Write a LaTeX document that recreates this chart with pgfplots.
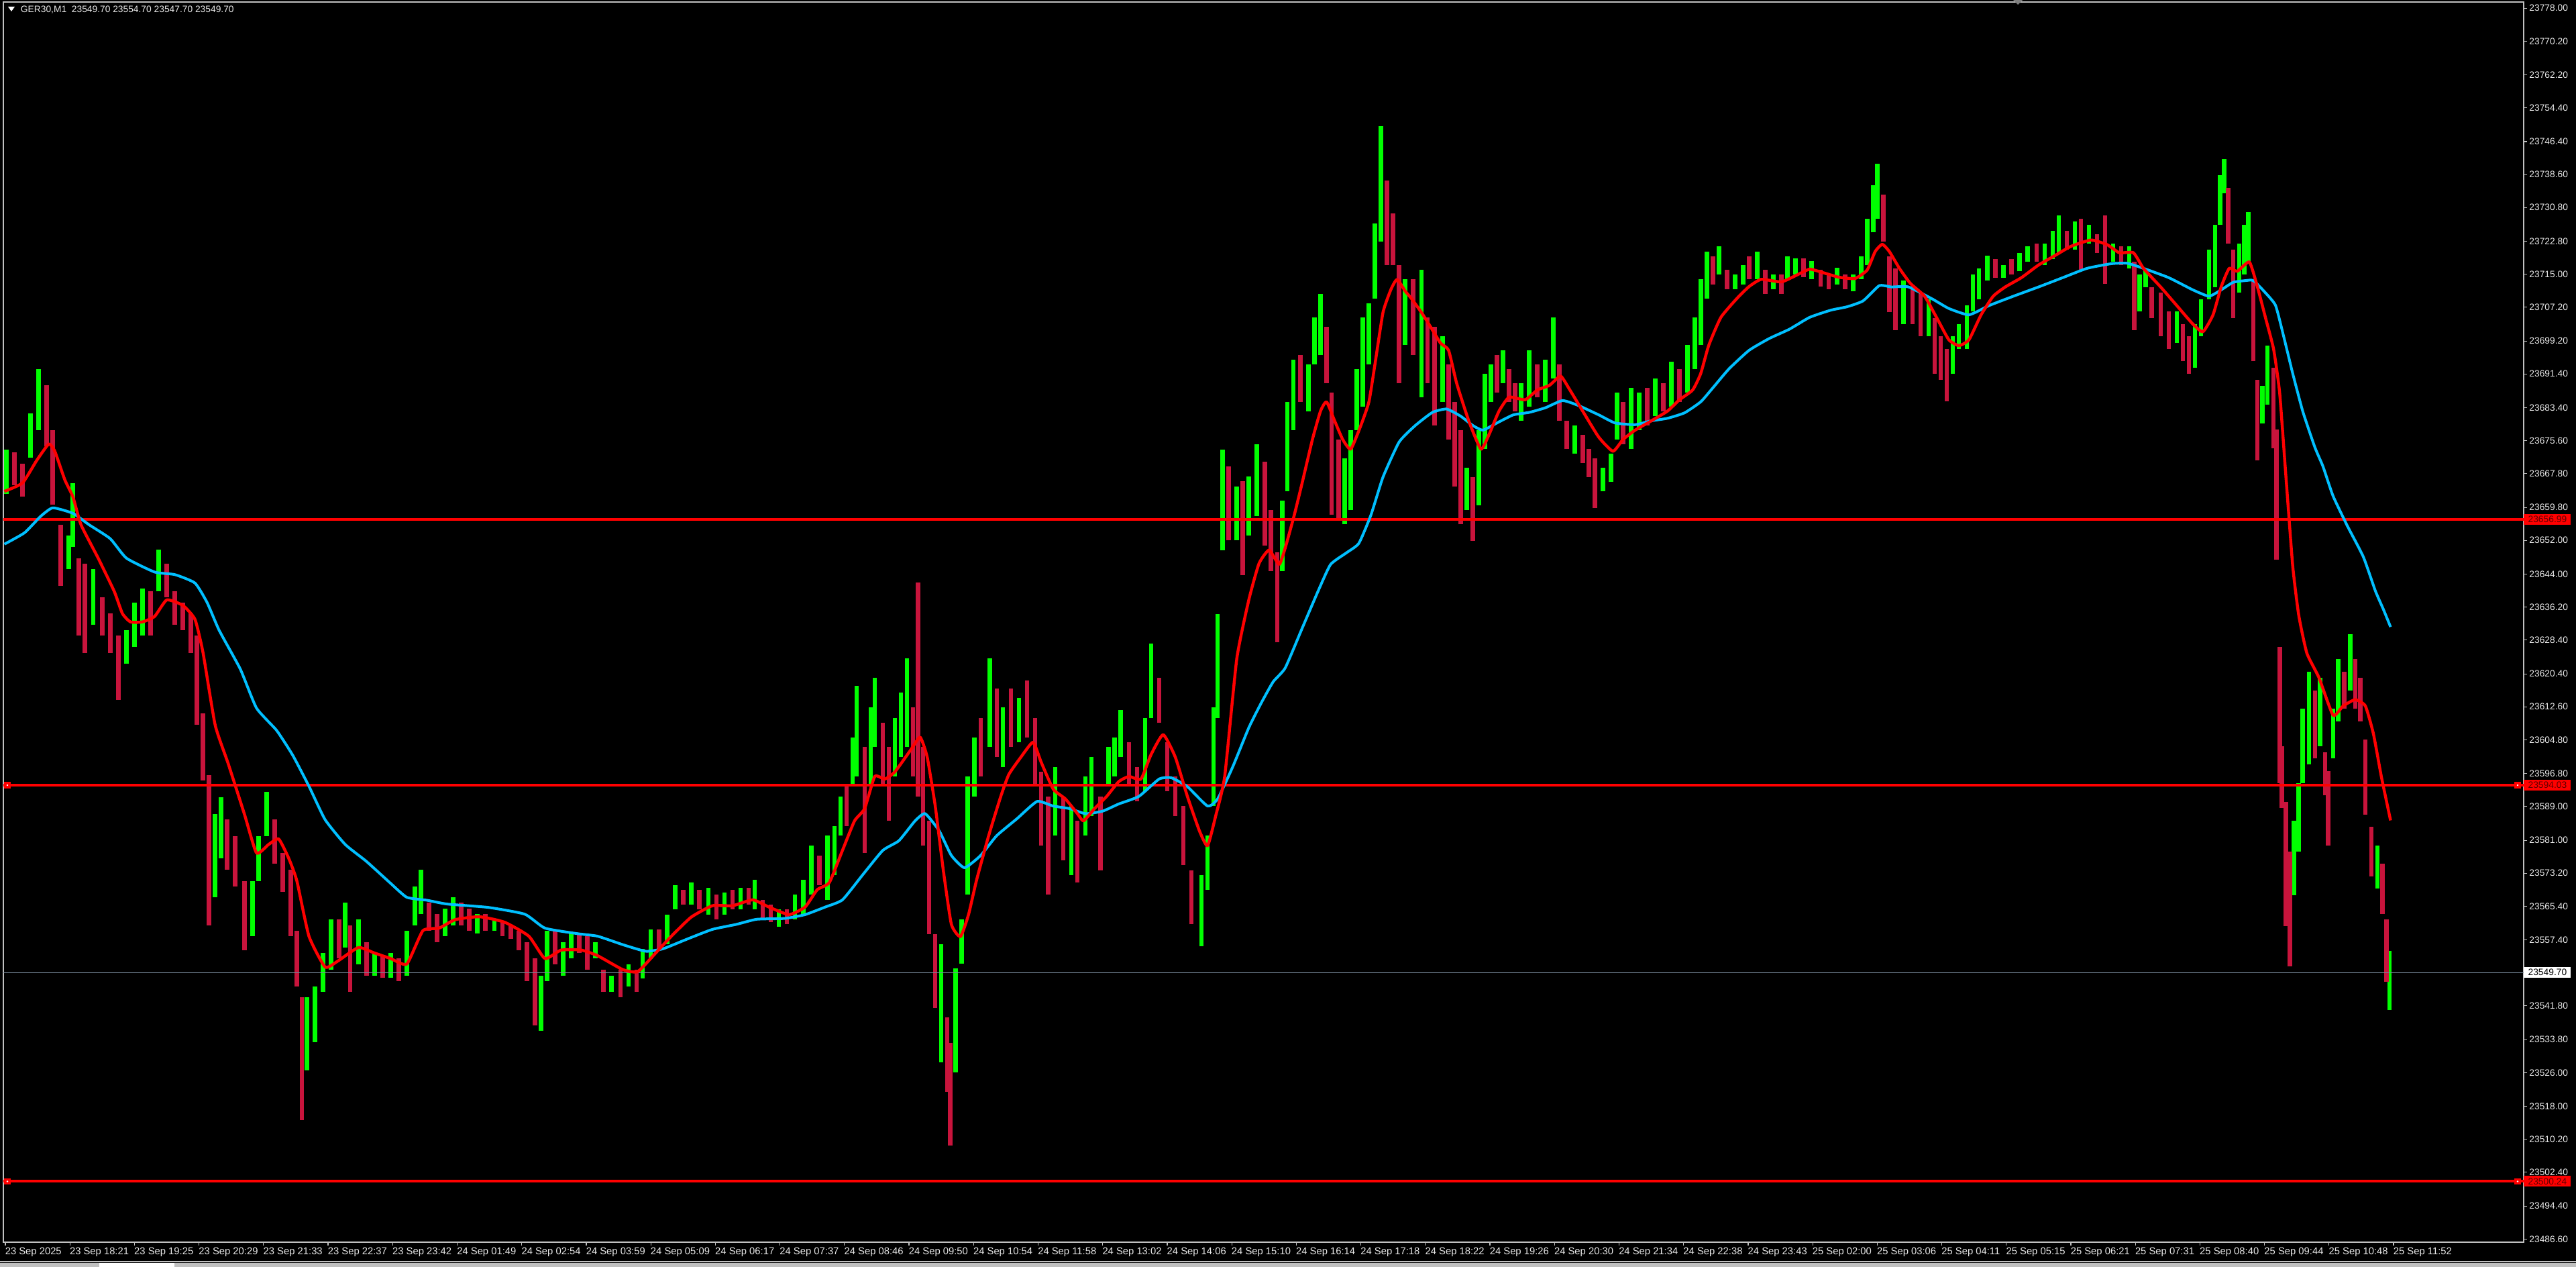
\documentclass[border=0pt]{standalone}
\usepackage{fontspec}
\setmainfont{Liberation Sans}
\usepackage{pgfplots}
\usepackage{pgfplotstable}
\pgfplotsset{compat=1.18}
\definecolor{bull}{HTML}{00FF00}
\definecolor{bear}{HTML}{C8143C}
\definecolor{maRed}{HTML}{FF0000}
\definecolor{maBlue}{HTML}{00BFFF}
\definecolor{framegray}{HTML}{C0C0C0}
\definecolor{labelcol}{HTML}{E8E8E8}
\definecolor{bidline}{HTML}{778899}
\definecolor{boxtext}{HTML}{600000}

\pgfplotstableread{
x lo hi c
1 23663.0 23673.5 1
9 23665.0 23672.9 0
17 23662.3 23670.2 0
25 23671.6 23682.1 1
33 23678.1 23692.6 1
41 23674.2 23688.7 0
47 23660.4 23678.1 0
55 23641.3 23655.7 0
63 23645.2 23653.1 1
67 23650.5 23665.6 1
73 23629.4 23647.8 0
79 23625.4 23646.5 0
87 23632.0 23645.2 1
96 23629.4 23638.6 0
104 23625.4 23634.7 0
112 23614.2 23629.4 0
120 23622.8 23630.7 1
128 23626.8 23637.3 1
136 23629.4 23640.6 1
144 23629.4 23639.9 0
152 23639.9 23649.8 1
160 23638.6 23646.5 0
168 23632.0 23639.9 0
176 23630.7 23637.3 0
184 23625.4 23634.7 0
190 23608.3 23629.4 0
196 23595.1 23611.0 0
202 23560.9 23596.5 0
208 23567.5 23587.2 1
214 23576.7 23591.2 1
220 23574.1 23585.9 0
228 23570.1 23582.0 0
237 23555.0 23571.4 0
245 23558.3 23571.4 1
251 23571.4 23582.0 1
259 23582.0 23592.5 1
267 23575.4 23585.9 0
275 23568.8 23578.0 0
283 23558.3 23574.1 0
289 23546.4 23559.6 0
294 23514.8 23543.8 0
299 23526.6 23543.8 1
307 23533.2 23546.4 1
315 23545.1 23554.3 1
323 23550.4 23562.2 1
331 23553.0 23562.2 0
337 23555.6 23566.2 1
342 23545.1 23560.9 0
350 23551.7 23562.2 1
358 23549.0 23556.9 0
366 23549.0 23554.3 1
374 23548.4 23553.7 0
382 23548.4 23554.3 1
390 23547.7 23553.0 0
398 23549.0 23559.6 1
406 23560.9 23570.1 1
412 23563.5 23574.1 1
420 23559.6 23566.2 0
428 23556.9 23563.5 0
436 23558.3 23564.8 1
444 23560.9 23567.5 1
452 23560.9 23566.2 0
460 23559.6 23564.8 0
468 23558.9 23563.5 1
476 23559.6 23563.5 0
485 23559.6 23562.2 1
493 23558.3 23561.6 0
501 23557.6 23560.9 0
509 23555.0 23559.6 0
517 23547.7 23556.9 0
525 23537.2 23553.0 0
531 23535.9 23549.0 1
537 23547.7 23559.6 1
545 23551.7 23559.6 0
553 23549.0 23556.9 1
561 23553.0 23558.9 1
569 23554.3 23558.9 0
577 23550.4 23558.3 0
585 23553.0 23556.9 1
593 23545.1 23550.4 0
601 23545.1 23549.0 1
610 23543.8 23550.4 0
618 23546.4 23551.7 1
626 23545.1 23550.4 0
632 23548.3 23555.3 1
640 23552.9 23559.9 1
648 23555.3 23559.9 0
656 23556.4 23563.4 1
664 23564.6 23570.4 1
672 23565.8 23569.3 0
680 23565.8 23571.0 1
688 23564.6 23569.3 0
697 23563.4 23569.8 1
705 23562.3 23568.1 0
713 23563.4 23568.7 1
721 23564.6 23569.3 0
729 23564.6 23569.8 1
737 23565.8 23569.8 0
743 23564.6 23571.6 1
751 23562.3 23566.9 0
759 23561.7 23565.8 0
767 23560.5 23564.6 1
775 23561.1 23564.6 0
783 23562.3 23568.1 1
791 23563.4 23571.6 1
799 23568.1 23579.7 1
807 23570.4 23577.4 0
815 23566.9 23582.1 1
822 23572.8 23584.4 1
828 23582.1 23591.4 1
834 23584.4 23593.7 0
840 23593.7 23605.4 1
844 23596.1 23617.6 1
852 23578.0 23603.1 0
858 23593.7 23612.4 1
862 23603.1 23619.4 1
870 23593.7 23608.9 0
876 23585.6 23603.1 0
882 23596.1 23610.0 1
888 23600.7 23615.9 1
894 23603.1 23624.0 1
900 23596.1 23612.4 0
905 23591.4 23642.1 0
910 23579.7 23603.1 0
916 23558.8 23585.6 0
922 23541.3 23558.8 0
928 23528.5 23556.4 1
934 23521.5 23539.0 0
937 23508.7 23533.1 0
942 23526.1 23550.6 1
948 23551.8 23562.3 1
954 23568.1 23596.1 1
961 23591.4 23605.4 1
967 23596.1 23610.0 0
976 23603.1 23624.0 1
983 23600.7 23617.0 0
989 23598.4 23612.4 1
997 23603.1 23617.0 0
1005 23604.2 23614.7 1
1013 23605.4 23618.8 0
1021 23593.7 23610.0 0
1027 23579.7 23597.2 0
1034 23568.1 23591.4 0
1041 23582.1 23598.4 1
1049 23576.2 23591.4 0
1057 23572.8 23589.1 1
1063 23571.0 23585.6 0
1071 23582.1 23596.1 1
1077 23586.7 23600.7 1
1086 23573.9 23591.4 0
1094 23593.7 23603.1 1
1100 23596.1 23605.4 1
1106 23600.7 23611.8 1
1114 23593.7 23604.2 0
1122 23590.2 23598.4 0
1130 23592.6 23610.0 1
1136 23610.0 23627.5 1
1144 23608.9 23619.4 0
1152 23592.6 23604.2 0
1160 23586.7 23596.1 0
1168 23575.1 23589.1 0
1176 23561.1 23573.9 0
1186 23555.9 23572.8 1
1192 23569.3 23582.1 1
1198 23589.1 23612.4 1
1202 23610.0 23634.5 1
1207 23649.7 23673.5 1
1213 23652.0 23669.5 0
1221 23652.0 23664.8 1
1227 23643.8 23666.0 0
1233 23653.2 23667.1 1
1241 23657.8 23674.7 1
1249 23650.8 23670.6 0
1255 23644.7 23659.2 0
1261 23627.9 23649.1 0
1266 23644.7 23661.4 1
1271 23663.6 23684.8 1
1277 23678.1 23694.8 1
1284 23684.8 23695.9 0
1292 23682.6 23693.7 1
1298 23693.7 23704.8 1
1304 23695.9 23710.4 1
1310 23689.2 23702.6 0
1315 23658.0 23687.0 0
1322 23656.9 23675.9 0
1328 23655.8 23671.4 1
1334 23659.2 23678.1 1
1340 23678.1 23692.6 1
1346 23683.7 23704.8 1
1352 23693.7 23708.2 1
1358 23709.3 23727.1 1
1364 23722.7 23750.0 1
1370 23717.1 23737.2 0
1376 23717.1 23729.4 0
1382 23689.2 23717.1 0
1388 23698.2 23713.8 1
1396 23695.9 23713.8 0
1404 23685.9 23716.0 1
1410 23689.2 23704.8 0
1417 23679.2 23702.6 0
1425 23684.8 23700.4 1
1431 23675.9 23693.7 0
1437 23664.7 23684.8 0
1443 23655.8 23678.1 0
1449 23659.2 23669.2 1
1455 23651.9 23667.0 0
1461 23660.3 23678.1 1
1467 23673.6 23691.5 1
1473 23684.8 23693.7 1
1479 23687.0 23695.9 0
1485 23689.2 23697.0 1
1491 23684.8 23692.6 0
1497 23682.6 23689.2 0
1503 23680.3 23689.2 1
1511 23683.7 23697.0 1
1519 23685.9 23693.7 0
1527 23684.8 23694.8 1
1535 23690.4 23704.8 1
1541 23680.3 23693.7 0
1548 23673.6 23680.3 0
1556 23672.5 23679.2 1
1564 23670.3 23677.0 0
1570 23667.0 23673.6 0
1576 23659.7 23671.4 0
1584 23663.6 23669.2 1
1592 23665.8 23672.5 1
1598 23675.9 23687.0 1
1604 23674.8 23684.8 0
1612 23673.6 23688.1 1
1620 23678.1 23687.0 1
1628 23679.2 23688.1 0
1636 23681.4 23690.4 1
1644 23682.6 23689.2 0
1652 23683.7 23694.3 1
1660 23684.8 23692.6 0
1668 23687.0 23698.2 1
1675 23692.6 23704.8 1
1681 23698.2 23713.8 1
1687 23709.3 23720.4 1
1693 23712.6 23719.3 0
1699 23714.9 23721.6 1
1707 23711.5 23716.0 0
1715 23711.5 23714.9 1
1723 23712.6 23717.1 1
1729 23713.8 23719.3 0
1737 23713.8 23720.4 1
1745 23710.4 23716.0 0
1753 23711.5 23714.9 1
1761 23710.4 23714.9 0
1767 23713.8 23719.3 1
1775 23714.9 23718.8 1
1783 23714.3 23718.8 0
1791 23713.8 23718.2 1
1800 23712.1 23716.0 0
1808 23711.5 23714.9 0
1816 23712.6 23716.5 1
1824 23711.5 23714.9 0
1832 23711.0 23714.9 1
1840 23713.8 23719.3 1
1846 23717.1 23728.2 1
1852 23724.9 23736.1 1
1856 23728.2 23741.1 1
1862 23722.7 23733.8 0
1868 23706.0 23719.3 0
1874 23701.8 23716.4 0
1882 23703.2 23713.5 1
1891 23703.2 23712.0 0
1899 23700.3 23710.6 0
1907 23700.3 23709.1 1
1913 23691.5 23704.7 0
1919 23690.0 23700.3 0
1925 23684.9 23697.3 0
1931 23691.5 23700.3 1
1937 23697.3 23703.2 1
1945 23697.3 23707.6 1
1951 23706.2 23715.0 1
1957 23709.1 23716.4 1
1965 23713.5 23719.4 1
1973 23714.2 23718.6 0
1981 23714.2 23717.2 1
1989 23715.0 23718.6 0
1997 23715.7 23720.1 1
2005 23717.9 23721.6 1
2014 23717.9 23722.3 0
2022 23717.2 23722.3 1
2030 23718.6 23725.3 1
2036 23720.1 23728.9 1
2044 23720.9 23725.3 0
2052 23720.9 23727.5 1
2058 23715.7 23728.2 0
2066 23722.3 23726.7 1
2074 23720.1 23724.5 0
2082 23712.8 23728.9 0
2090 23717.9 23722.3 1
2098 23717.2 23721.6 0
2106 23716.4 23721.6 1
2111 23701.8 23717.9 0
2116 23706.2 23715.0 1
2122 23712.0 23716.4 1
2128 23704.7 23712.0 0
2137 23700.3 23710.6 0
2145 23697.3 23706.2 0
2153 23698.8 23706.2 1
2159 23694.4 23703.2 0
2165 23691.5 23700.3 0
2171 23692.9 23703.2 1
2177 23700.3 23709.1 1
2185 23709.1 23720.9 1
2191 23712.0 23726.7 1
2196 23726.7 23738.5 1
2200 23734.1 23742.2 1
2204 23722.3 23735.5 0
2209 23704.7 23720.9 0
2215 23710.6 23722.3 1
2220 23715.0 23726.7 1
2224 23717.9 23729.7 1
2229 23694.4 23713.5 0
2233 23670.9 23690.0 0
2238 23679.7 23688.5 1
2243 23684.1 23698.1 1
2249 23673.8 23692.9 0
2252 23647.4 23678.2 0
2255 23594.5 23626.8 0
2257 23588.6 23603.3 0
2261 23560.7 23590.1 0
2265 23551.1 23578.3 0
2269 23568.0 23585.7 1
2274 23578.3 23594.5 1
2278 23594.5 23612.1 1
2284 23598.9 23620.9 1
2290 23600.4 23616.5 0
2295 23603.3 23619.5 1
2300 23591.6 23601.8 0
2303 23579.8 23597.4 0
2308 23600.4 23612.1 1
2313 23609.2 23623.9 1
2319 23612.1 23620.9 0
2325 23616.5 23629.8 1
2330 23612.1 23623.9 0
2335 23609.2 23619.5 0
2340 23587.1 23604.8 0
2346 23572.5 23584.2 0
2352 23569.5 23579.8 1
2357 23563.6 23575.4 0
2361 23547.5 23562.2 0
2364 23540.9 23554.8 1
}\candles

\pgfplotstableread{
x y
-1 23663.6
17 23665.6
31 23670.9
43 23674.8
49 23673.1
59 23666.3
67 23662.3
75 23655.7
92 23647.8
108 23639.9
116 23634.7
124 23632.7
136 23632.7
148 23634.0
160 23637.9
176 23636.6
188 23633.3
196 23625.4
208 23608.3
221 23599.1
237 23587.2
249 23578.0
261 23580.0
271 23581.3
281 23576.7
289 23571.4
301 23558.3
317 23551.0
329 23552.3
350 23555.6
366 23554.3
382 23553.0
398 23551.7
414 23559.6
430 23560.2
446 23562.2
470 23562.9
495 23561.6
519 23558.3
535 23553.0
551 23555.0
571 23555.0
587 23553.7
612 23550.4
627 23549.9
644 23554.1
660 23558.2
680 23562.8
701 23565.5
721 23565.5
741 23566.9
757 23565.2
777 23563.4
793 23565.2
805 23569.3
817 23571.0
830 23578.6
842 23585.6
852 23588.5
862 23596.1
872 23595.5
882 23597.2
898 23602.5
907 23605.4
914 23600.7
922 23589.1
930 23573.9
938 23561.1
947 23558.2
955 23563.4
963 23571.6
975 23582.1
987 23591.4
995 23596.6
1007 23600.7
1019 23604.2
1027 23599.5
1039 23593.1
1051 23590.8
1063 23587.3
1069 23585.6
1080 23588.5
1092 23591.4
1104 23594.9
1114 23596.1
1126 23595.5
1136 23601.3
1148 23606.0
1160 23600.7
1172 23591.4
1184 23583.2
1192 23579.7
1200 23586.7
1209 23596.1
1221 23624.0
1233 23638.0
1243 23646.5
1253 23649.7
1263 23646.3
1269 23650.2
1278 23658.0
1286 23665.8
1296 23675.9
1304 23682.6
1310 23684.8
1318 23680.3
1326 23675.9
1334 23673.6
1344 23679.2
1352 23684.8
1358 23693.7
1366 23706.0
1374 23711.5
1380 23713.8
1388 23711.0
1394 23709.3
1404 23706.0
1413 23702.6
1423 23698.7
1431 23697.0
1439 23689.2
1451 23680.3
1463 23673.6
1471 23677.0
1481 23682.6
1491 23685.9
1507 23685.3
1519 23687.6
1531 23688.7
1542 23690.9
1550 23688.1
1564 23682.6
1580 23676.4
1594 23673.1
1604 23675.9
1616 23678.1
1632 23680.3
1648 23682.6
1660 23685.3
1673 23687.6
1681 23691.5
1689 23698.2
1701 23704.8
1717 23709.3
1729 23712.1
1741 23713.8
1761 23713.2
1777 23714.9
1789 23716.2
1802 23715.4
1818 23714.3
1834 23714.0
1846 23716.0
1854 23720.4
1861 23722.1
1868 23720.4
1878 23716.4
1889 23712.8
1903 23709.8
1915 23704.7
1927 23699.5
1937 23698.1
1947 23699.5
1959 23705.4
1971 23709.8
1983 23712.0
1999 23714.2
2016 23717.2
2032 23719.4
2048 23721.6
2068 23723.1
2084 23722.0
2096 23720.1
2110 23720.1
2120 23716.4
2137 23712.0
2153 23707.6
2169 23703.2
2179 23701.4
2189 23705.4
2197 23712.0
2205 23716.4
2213 23715.7
2225 23717.9
2233 23712.0
2241 23704.7
2249 23697.3
2255 23687.0
2261 23667.9
2268 23645.9
2274 23634.2
2282 23625.3
2294 23619.5
2308 23610.6
2318 23612.8
2330 23614.3
2340 23612.8
2348 23606.2
2356 23595.9
2365 23585.7
}\maFast

\pgfplotstableread{
x y
-1 23651.1
19 23653.8
35 23657.7
47 23659.7
67 23658.4
83 23655.7
104 23652.4
120 23647.8
148 23644.5
168 23643.9
188 23641.9
200 23637.3
212 23630.7
233 23621.5
249 23612.3
269 23607.0
285 23601.1
301 23593.8
317 23585.9
337 23580.0
358 23576.0
382 23570.8
398 23567.5
418 23566.8
438 23565.9
479 23565.1
515 23563.5
535 23560.2
567 23558.9
587 23558.3
612 23556.3
627 23555.2
636 23554.7
652 23555.3
676 23557.6
701 23559.9
725 23561.1
745 23562.3
773 23562.5
793 23563.4
813 23565.2
830 23566.9
850 23572.8
870 23578.6
886 23580.9
902 23585.6
912 23587.3
926 23583.2
938 23577.4
951 23574.5
967 23577.4
983 23582.1
1003 23586.1
1023 23590.2
1039 23589.1
1055 23588.5
1071 23587.3
1088 23587.9
1104 23589.6
1124 23591.4
1144 23595.5
1156 23595.8
1172 23593.7
1192 23589.1
1202 23590.8
1217 23598.4
1233 23607.7
1245 23613.4
1257 23618.5
1269 23621.8
1286 23631.3
1302 23640.2
1314 23646.3
1330 23649.1
1342 23651.3
1354 23658.0
1366 23667.0
1382 23675.3
1398 23679.2
1415 23682.3
1429 23683.1
1443 23681.4
1455 23679.2
1465 23678.1
1479 23679.8
1495 23681.7
1511 23682.3
1527 23683.4
1544 23685.1
1560 23683.9
1580 23681.7
1596 23679.8
1616 23679.4
1632 23680.3
1648 23680.9
1665 23682.2
1681 23684.8
1693 23688.1
1709 23692.6
1729 23697.0
1749 23699.8
1769 23702.0
1789 23704.8
1810 23706.5
1826 23707.3
1842 23708.7
1858 23712.3
1870 23712.0
1887 23712.0
1911 23709.1
1927 23706.9
1947 23705.4
1967 23707.6
1991 23709.8
2016 23712.0
2040 23714.2
2064 23716.4
2088 23717.5
2104 23717.6
2120 23716.4
2145 23714.2
2169 23711.3
2185 23709.8
2197 23711.3
2209 23713.1
2221 23713.5
2229 23713.5
2241 23710.6
2251 23707.6
2259 23700.3
2268 23691.5
2278 23682.5
2290 23674.0
2298 23669.5
2308 23662.5
2322 23655.5
2338 23648.1
2350 23640.0
2358 23635.6
2365 23631.5
}\maSlow

\begin{document}
\begin{tikzpicture}
\fill[black] (0,0) rectangle (1920bp,944bp);
\begin{axis}[
  at={(2.5bp,18.5bp)}, anchor=south west,
  scale only axis, width=1878.5bp, height=924bp,
  xmin=-2, xmax=2497, ymin=23485.85, ymax=23779.46,
  clip=false,
  axis line style={draw=framegray, line width=0.8bp},
  tick align=outside, xtick pos=bottom, ytick pos=right, yticklabel pos=right,
  major tick length=2.5bp,
  tick style={draw=framegray, line width=0.6bp},
  xtick={0,64,...,2368},
  xticklabels={23 Sep 2025, 23 Sep 18:21, 23 Sep 19:25, 23 Sep 20:29, 23 Sep 21:33, 23 Sep 22:37, 23 Sep 23:42, 24 Sep 01:49, 24 Sep 02:54, 24 Sep 03:59, 24 Sep 05:09, 24 Sep 06:17, 24 Sep 07:37, 24 Sep 08:46, 24 Sep 09:50, 24 Sep 10:54, 24 Sep 11:58, 24 Sep 13:02, 24 Sep 14:06, 24 Sep 15:10, 24 Sep 16:14, 24 Sep 17:18, 24 Sep 18:22, 24 Sep 19:26, 24 Sep 20:30, 24 Sep 21:34, 24 Sep 22:38, 24 Sep 23:43, 25 Sep 02:00, 25 Sep 03:06, 25 Sep 04:11, 25 Sep 05:15, 25 Sep 06:21, 25 Sep 07:31, 25 Sep 08:40, 25 Sep 09:44, 25 Sep 10:48, 25 Sep 11:52},
  xticklabel style={anchor=north west, xshift=-1.5bp, font=\fontsize{7.4bp}{8.5bp}\selectfont, text=labelcol, inner sep=1.2bp},
  ytick={23486.6,23494.4,23502.4,23510.2,23518.0,23526.0,23533.8,23541.8,23557.4,23565.4,23573.2,23581.0,23589.0,23596.8,23604.8,23612.6,23620.4,23628.4,23636.2,23644.0,23652.0,23659.8,23667.8,23675.6,23683.4,23691.4,23699.2,23707.2,23715.0,23722.8,23730.8,23738.6,23746.4,23754.4,23762.2,23770.2,23778.0},
  yticklabels={23486.60,23494.40,23502.40,23510.20,23518.00,23526.00,23533.80,23541.80,23557.40,23565.40,23573.20,23581.00,23589.00,23596.80,23604.80,23612.60,23620.40,23628.40,23636.20,23644.00,23652.00,23659.80,23667.80,23675.60,23683.40,23691.40,23699.20,23707.20,23715.00,23722.80,23730.80,23738.60,23746.40,23754.40,23762.20,23770.20,23778.00},
  yticklabel style={font=\fontsize{6.9bp}{8bp}\selectfont, text=labelcol, inner xsep=1.5bp, inner ysep=0pt},
]
% candles: up bars
\addplot[draw=none, mark=none, forget plot,
  restrict expr to domain={\thisrow{c}}{0.5:1.5},
  error bars/.cd, y dir=plus, y explicit, error mark=none,
  error bar style={draw=bull, line width=3.3bp}]
  table[x=x, y=lo, y error expr=\thisrow{hi}-\thisrow{lo}] {\candles};
% candles: down bars
\addplot[draw=none, mark=none, forget plot,
  restrict expr to domain={\thisrow{c}}{-0.5:0.5},
  error bars/.cd, y dir=plus, y explicit, error mark=none,
  error bar style={draw=bear, line width=3.3bp}]
  table[x=x, y=lo, y error expr=\thisrow{hi}-\thisrow{lo}] {\candles};
% horizontal levels
\addplot[maRed, line width=2bp, forget plot] coordinates {(-2,23656.99) (2497,23656.99)};
\addplot[maRed, line width=2bp, forget plot] coordinates {(-2,23594.03) (2497,23594.03)};
\addplot[maRed, line width=2bp, forget plot] coordinates {(-2,23500.24) (2497,23500.24)};
\addplot[bidline, line width=0.6bp, forget plot] coordinates {(-2,23549.70) (2497,23549.70)};
% selection handles
\addplot[only marks, mark=square*, mark size=2.2bp, color=maRed, forget plot] coordinates {(2,23594.03) (2491,23594.03) (2,23500.24) (2491,23500.24)};
\addplot[only marks, mark=*, mark size=0.4bp, color=white, forget plot] coordinates {(2,23594.03) (2491,23594.03) (2,23500.24) (2491,23500.24)};
% moving averages
\addplot[maBlue, line width=2bp, smooth, tension=0.3, line join=round] table[x=x, y=y] {\maSlow};
\addplot[maRed, line width=2.2bp, smooth, tension=0.3, line join=round] table[x=x, y=y] {\maFast};
% price boxes
\node[fill=maRed, text=boxtext, anchor=west, inner xsep=2.5bp, inner ysep=0pt, minimum height=8bp, minimum width=35bp, font=\fontsize{6.9bp}{8bp}\selectfont] at (axis cs:2497,23656.99) {23656.99};
\node[fill=maRed, text=boxtext, anchor=west, inner xsep=2.5bp, inner ysep=0pt, minimum height=8bp, minimum width=35bp, font=\fontsize{6.9bp}{8bp}\selectfont] at (axis cs:2497,23594.03) {23594.03};
\node[fill=maRed, text=boxtext, anchor=west, inner xsep=2.5bp, inner ysep=0pt, minimum height=8bp, minimum width=35bp, font=\fontsize{6.9bp}{8bp}\selectfont] at (axis cs:2497,23500.24) {23500.24};
\node[fill=white, text=black, anchor=west, inner xsep=2.5bp, inner ysep=0pt, minimum height=8bp, minimum width=35bp, font=\fontsize{6.9bp}{8bp}\selectfont] at (axis cs:2497,23549.70) {23549.70};
\end{axis}
% header
\fill[white] (6bp,939bp) -- (11bp,939bp) -- (8.5bp,935.5bp) -- cycle;
\node[anchor=west, text=labelcol, font=\fontsize{6.9bp}{8bp}\selectfont, inner sep=0pt] at (15.3bp,936.5bp) {GER30,M1\ \ 23549.70 23554.70 23547.70 23549.70};
% chart shift marker
\fill[gray] (1500.5bp,944bp) -- (1507.5bp,944bp) -- (1504bp,940.5bp) -- cycle;
% bottom tab strip
\fill[framegray] (0,0) rectangle (1920bp,3bp);
\fill[white] (74bp,0) rectangle (130bp,3bp);
\draw[framegray, line width=0.6bp] (0,4bp) -- (1920bp,4bp);
\pgfresetboundingbox
\useasboundingbox (0,0) rectangle (1920bp,944bp);
\end{tikzpicture}
\end{document}
